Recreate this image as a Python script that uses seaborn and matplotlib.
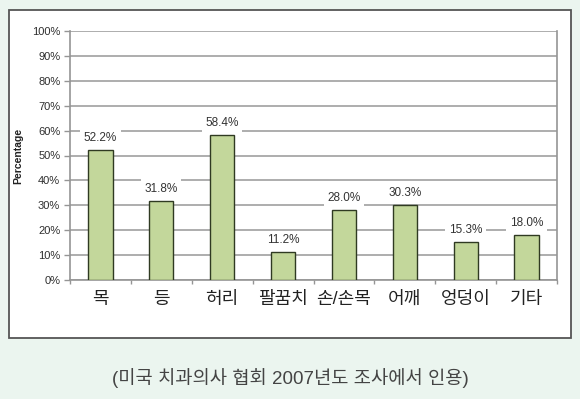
import pandas as pd
import matplotlib.pyplot as plt
import seaborn as sns
from matplotlib.patches import Rectangle
from matplotlib.ticker import FuncFormatter, FixedLocator

# Données : douleurs musculo-squelettiques (enquête ADA 2007)
parties = ["목", "등", "허리", "팔꿈치", "손/손목", "어깨", "엉덩이", "기타"]
pourcentages = [52.2, 31.8, 58.4, 11.2, 28.0, 30.3, 15.3, 18.0]
titre_bas = "(미국 치과의사 협회 2007년도 조사에서 인용)"

df = pd.DataFrame({"partie": parties, "pct": pourcentages})

sns.set_style("white")
plt.rcParams["font.family"] = ["Liberation Sans", "Noto Sans CJK KR", "DejaVu Sans"]

fig = plt.figure(figsize=(5.8, 3.99), dpi=100)
fig.patch.set_facecolor("#ebf5ef")

# cadre blanc autour du graphique
fig.patches.append(Rectangle((9 / 580, 61 / 399), 562 / 580, 328 / 399,
                             transform=fig.transFigure, facecolor="white",
                             edgecolor="#555555", linewidth=1.3, zorder=-1))

ax = fig.add_axes([70 / 580, 1 - 280 / 399, 487 / 580, 249 / 399])
ax.set_facecolor("white")

sns.barplot(data=df, x="partie", y="pct", color="#c3d79b", width=0.4,
            edgecolor="#2f3a22", linewidth=1.0, saturation=1, ax=ax, zorder=3)

ax.set_ylim(0, 100)
ax.set_xlim(-0.5, len(parties) - 0.5)
ax.set_yticks(range(0, 101, 10))
ax.yaxis.set_major_formatter(FuncFormatter(lambda v, p: f"{v:.0f}%"))
ax.grid(axis="y", color="#a0a0a0", linewidth=1.2, zorder=0)

for s in ["left", "right", "bottom"]:
    ax.spines[s].set_color("#959595")
    ax.spines[s].set_linewidth(1.2)
ax.spines["top"].set_visible(False)

ax.tick_params(axis="y", labelsize=8, colors="#959595", labelcolor="#2e2e2e",
               direction="out", length=4, width=1, left=True, pad=3)
ax.tick_params(axis="x", which="major", labelsize=13, labelcolor="#222222",
               length=0, pad=8)
ax.xaxis.set_minor_locator(FixedLocator([i + 0.5 for i in range(-1, len(parties))]))
ax.tick_params(axis="x", which="minor", direction="out", length=3, width=1,
               color="#959595", bottom=True)

ax.set_xlabel("")
ax.set_ylabel("Percentage", fontsize=7.5, fontweight="bold", color="#222222", labelpad=6)

# étiquettes de valeur au-dessus des barres
for i, v in enumerate(pourcentages):
    ax.annotate(f"{v:.1f}%", (i, v), xytext=(0, 8.5), textcoords="offset points",
                ha="center", va="center", fontsize=8.5, color="#333333", zorder=4,
                bbox=dict(boxstyle="square,pad=0.3", facecolor="white", edgecolor="none"))

fig.text(0.5, 1 - 378 / 399, titre_bas, ha="center", va="center",
         fontsize=13.5, color="#444444")

plt.savefig("out.png", dpi=100, facecolor=fig.get_facecolor())
plt.close()
